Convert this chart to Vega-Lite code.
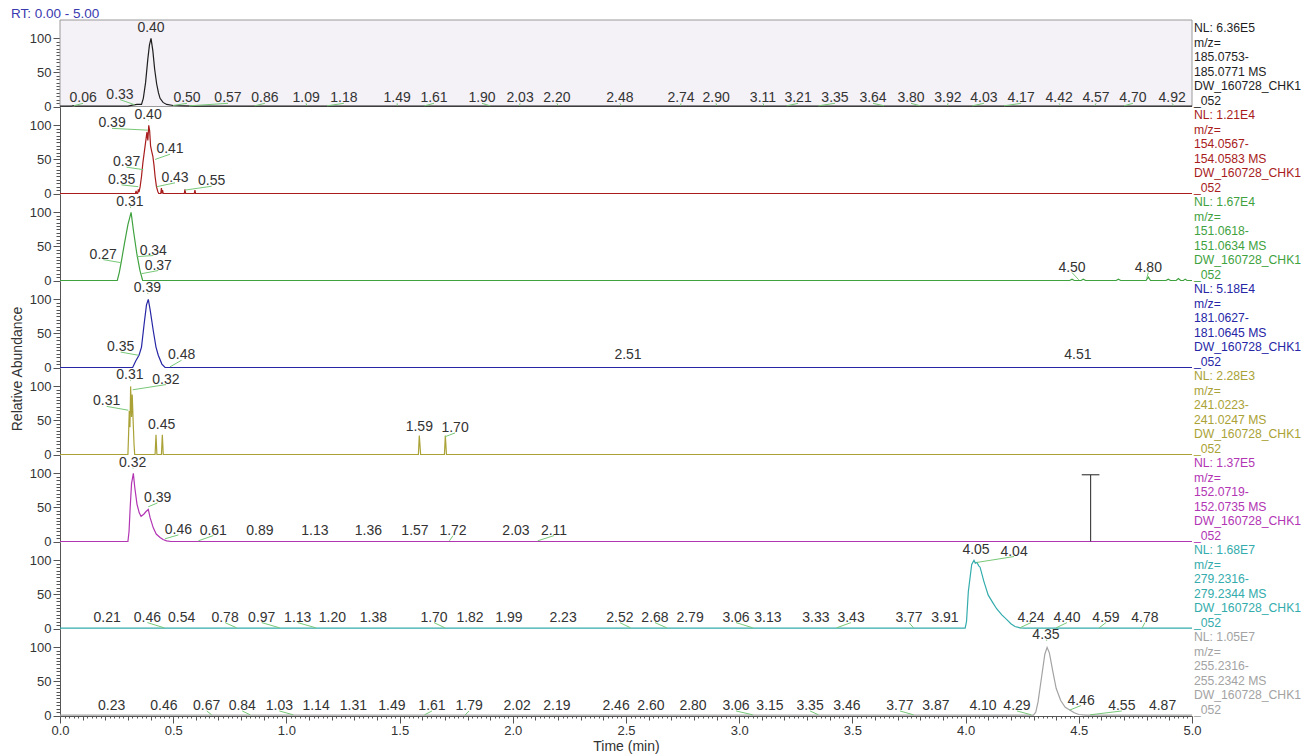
{
"$schema": "https://vega.github.io/schema/vega-lite/v6.json",
"background": "white",
"padding": {"left": 10, "top": 7, "right": 4, "bottom": 2},
"config": {"font": "Liberation Sans", "view": {"stroke": null},
  "axis": {"grid": false, "labelFontSize": 13, "labelColor": "#333", "titleFontSize": 14, "titleFontWeight": "normal", "titleColor": "#333", "domainColor": "#555", "tickColor": "#555"}},
"title": {"text": "RT: 0.00 - 5.00", "anchor": "start", "frame": "bounds", "fontSize": 13.5, "fontWeight": "normal", "color": "#3a3ab0", "offset": -1},
"data": {"values": [
{"k":"t","p":1,"x":0,"y":0.6},{"k":"t","p":1,"x":0.05,"y":0.6},{"k":"t","p":1,"x":0.06,"y":1.2},{"k":"t","p":1,"x":0.07,"y":0.6},{"k":"t","p":1,"x":0.30,"y":0.6},{"k":"t","p":1,"x":0.32,"y":2},{"k":"t","p":1,"x":0.34,"y":3},{"k":"t","p":1,"x":0.36,"y":3},{"k":"t","p":1,"x":0.368,"y":12},{"k":"t","p":1,"x":0.378,"y":35},{"k":"t","p":1,"x":0.388,"y":70},{"k":"t","p":1,"x":0.395,"y":90},{"k":"t","p":1,"x":0.402,"y":100},{"k":"t","p":1,"x":0.41,"y":82},{"k":"t","p":1,"x":0.418,"y":55},{"k":"t","p":1,"x":0.427,"y":33},{"k":"t","p":1,"x":0.435,"y":20},{"k":"t","p":1,"x":0.442,"y":12},{"k":"t","p":1,"x":0.455,"y":6},{"k":"t","p":1,"x":0.471,"y":3},{"k":"t","p":1,"x":0.50,"y":1.5},{"k":"t","p":1,"x":0.55,"y":1},{"k":"t","p":1,"x":0.60,"y":0.6},{"k":"t","p":1,"x":5,"y":0.6},
{"k":"t","p":2,"x":0,"y":0},{"k":"t","p":2,"x":0.333,"y":0},{"k":"t","p":2,"x":0.336,"y":4},{"k":"t","p":2,"x":0.339,"y":0},{"k":"t","p":2,"x":0.343,"y":0},{"k":"t","p":2,"x":0.346,"y":6},{"k":"t","p":2,"x":0.349,"y":2},{"k":"t","p":2,"x":0.354,"y":10},{"k":"t","p":2,"x":0.36,"y":25},{"k":"t","p":2,"x":0.366,"y":45},{"k":"t","p":2,"x":0.372,"y":60},{"k":"t","p":2,"x":0.378,"y":75},{"k":"t","p":2,"x":0.384,"y":90},{"k":"t","p":2,"x":0.388,"y":78},{"k":"t","p":2,"x":0.392,"y":100},{"k":"t","p":2,"x":0.396,"y":92},{"k":"t","p":2,"x":0.40,"y":70},{"k":"t","p":2,"x":0.405,"y":62},{"k":"t","p":2,"x":0.41,"y":55},{"k":"t","p":2,"x":0.415,"y":42},{"k":"t","p":2,"x":0.42,"y":25},{"k":"t","p":2,"x":0.426,"y":10},{"k":"t","p":2,"x":0.432,"y":3},{"k":"t","p":2,"x":0.436,"y":0},{"k":"t","p":2,"x":0.445,"y":0},{"k":"t","p":2,"x":0.448,"y":8},{"k":"t","p":2,"x":0.451,"y":0},{"k":"t","p":2,"x":0.453,"y":5},{"k":"t","p":2,"x":0.456,"y":0},{"k":"t","p":2,"x":0.549,"y":0},{"k":"t","p":2,"x":0.552,"y":6},{"k":"t","p":2,"x":0.555,"y":0},{"k":"t","p":2,"x":0.593,"y":0},{"k":"t","p":2,"x":0.596,"y":5},{"k":"t","p":2,"x":0.599,"y":0},{"k":"t","p":2,"x":5,"y":0},
{"k":"t","p":3,"x":0,"y":0},{"k":"t","p":3,"x":0.253,"y":0},{"k":"t","p":3,"x":0.262,"y":12},{"k":"t","p":3,"x":0.272,"y":30},{"k":"t","p":3,"x":0.285,"y":55},{"k":"t","p":3,"x":0.30,"y":82},{"k":"t","p":3,"x":0.314,"y":100},{"k":"t","p":3,"x":0.325,"y":72},{"k":"t","p":3,"x":0.339,"y":40},{"k":"t","p":3,"x":0.353,"y":15},{"k":"t","p":3,"x":0.365,"y":0},{"k":"t","p":3,"x":4.46,"y":0},{"k":"t","p":3,"x":4.47,"y":2},{"k":"t","p":3,"x":4.48,"y":0},{"k":"t","p":3,"x":4.51,"y":0},{"k":"t","p":3,"x":4.52,"y":2},{"k":"t","p":3,"x":4.53,"y":0},{"k":"t","p":3,"x":4.665,"y":0},{"k":"t","p":3,"x":4.675,"y":2},{"k":"t","p":3,"x":4.685,"y":0},{"k":"t","p":3,"x":4.797,"y":0},{"k":"t","p":3,"x":4.807,"y":5},{"k":"t","p":3,"x":4.817,"y":0},{"k":"t","p":3,"x":4.885,"y":0},{"k":"t","p":3,"x":4.895,"y":2},{"k":"t","p":3,"x":4.905,"y":0},{"k":"t","p":3,"x":4.93,"y":0},{"k":"t","p":3,"x":4.94,"y":3},{"k":"t","p":3,"x":4.95,"y":0},{"k":"t","p":3,"x":4.962,"y":0},{"k":"t","p":3,"x":4.97,"y":2},{"k":"t","p":3,"x":4.978,"y":0},{"k":"t","p":3,"x":5,"y":0},
{"k":"t","p":4,"x":0,"y":0},{"k":"t","p":4,"x":0.321,"y":0},{"k":"t","p":4,"x":0.335,"y":10},{"k":"t","p":4,"x":0.349,"y":18},{"k":"t","p":4,"x":0.36,"y":30},{"k":"t","p":4,"x":0.372,"y":65},{"k":"t","p":4,"x":0.382,"y":92},{"k":"t","p":4,"x":0.39,"y":100},{"k":"t","p":4,"x":0.398,"y":85},{"k":"t","p":4,"x":0.412,"y":54},{"k":"t","p":4,"x":0.424,"y":30},{"k":"t","p":4,"x":0.434,"y":18},{"k":"t","p":4,"x":0.45,"y":5},{"k":"t","p":4,"x":0.464,"y":0},{"k":"t","p":4,"x":5,"y":0},
{"k":"t","p":5,"x":0,"y":0},{"k":"t","p":5,"x":0.300,"y":0},{"k":"t","p":5,"x":0.303,"y":30},{"k":"t","p":5,"x":0.306,"y":64},{"k":"t","p":5,"x":0.309,"y":40},{"k":"t","p":5,"x":0.312,"y":100},{"k":"t","p":5,"x":0.316,"y":55},{"k":"t","p":5,"x":0.319,"y":88},{"k":"t","p":5,"x":0.323,"y":50},{"k":"t","p":5,"x":0.327,"y":15},{"k":"t","p":5,"x":0.33,"y":0},{"k":"t","p":5,"x":0.42,"y":0},{"k":"t","p":5,"x":0.424,"y":29},{"k":"t","p":5,"x":0.428,"y":0},{"k":"t","p":5,"x":0.448,"y":0},{"k":"t","p":5,"x":0.452,"y":29},{"k":"t","p":5,"x":0.456,"y":0},{"k":"t","p":5,"x":1.583,"y":0},{"k":"t","p":5,"x":1.587,"y":28},{"k":"t","p":5,"x":1.593,"y":0},{"k":"t","p":5,"x":1.698,"y":0},{"k":"t","p":5,"x":1.702,"y":28},{"k":"t","p":5,"x":1.707,"y":0},{"k":"t","p":5,"x":5,"y":0},
{"k":"t","p":6,"x":0,"y":0},{"k":"t","p":6,"x":0.30,"y":0},{"k":"t","p":6,"x":0.305,"y":15},{"k":"t","p":6,"x":0.31,"y":50},{"k":"t","p":6,"x":0.316,"y":85},{"k":"t","p":6,"x":0.324,"y":100},{"k":"t","p":6,"x":0.33,"y":80},{"k":"t","p":6,"x":0.34,"y":55},{"k":"t","p":6,"x":0.35,"y":42},{"k":"t","p":6,"x":0.358,"y":37},{"k":"t","p":6,"x":0.37,"y":40},{"k":"t","p":6,"x":0.38,"y":44},{"k":"t","p":6,"x":0.39,"y":47},{"k":"t","p":6,"x":0.398,"y":35},{"k":"t","p":6,"x":0.412,"y":20},{"k":"t","p":6,"x":0.425,"y":11},{"k":"t","p":6,"x":0.442,"y":6},{"k":"t","p":6,"x":0.455,"y":3},{"k":"t","p":6,"x":0.471,"y":1},{"k":"t","p":6,"x":0.49,"y":0},{"k":"t","p":6,"x":5,"y":0},
{"k":"t","p":7,"x":0,"y":0.6},{"k":"t","p":7,"x":3.998,"y":0.6},{"k":"t","p":7,"x":4.004,"y":10},{"k":"t","p":7,"x":4.012,"y":54},{"k":"t","p":7,"x":4.027,"y":94},{"k":"t","p":7,"x":4.037,"y":100},{"k":"t","p":7,"x":4.043,"y":96},{"k":"t","p":7,"x":4.05,"y":97},{"k":"t","p":7,"x":4.058,"y":92},{"k":"t","p":7,"x":4.064,"y":90},{"k":"t","p":7,"x":4.08,"y":70},{"k":"t","p":7,"x":4.1,"y":49},{"k":"t","p":7,"x":4.12,"y":38},{"k":"t","p":7,"x":4.137,"y":29},{"k":"t","p":7,"x":4.16,"y":20},{"k":"t","p":7,"x":4.182,"y":13},{"k":"t","p":7,"x":4.2,"y":7},{"k":"t","p":7,"x":4.218,"y":3},{"k":"t","p":7,"x":4.24,"y":1},{"k":"t","p":7,"x":4.26,"y":0.6},{"k":"t","p":7,"x":5,"y":0.6},
{"k":"t","p":8,"x":0,"y":0.5},{"k":"t","p":8,"x":4.30,"y":0.5},{"k":"t","p":8,"x":4.31,"y":5},{"k":"t","p":8,"x":4.32,"y":20},{"k":"t","p":8,"x":4.335,"y":55},{"k":"t","p":8,"x":4.35,"y":90},{"k":"t","p":8,"x":4.36,"y":100},{"k":"t","p":8,"x":4.37,"y":92},{"k":"t","p":8,"x":4.385,"y":65},{"k":"t","p":8,"x":4.40,"y":40},{"k":"t","p":8,"x":4.42,"y":22},{"k":"t","p":8,"x":4.44,"y":12},{"k":"t","p":8,"x":4.46,"y":8},{"k":"t","p":8,"x":4.48,"y":4},{"k":"t","p":8,"x":4.50,"y":1.5},{"k":"t","p":8,"x":4.53,"y":0.5},{"k":"t","p":8,"x":5,"y":0.5},

{"k":"l","p":1,"x":0.102,"y":12,"txt":"0.06","px":0.06,"py":1},
{"k":"l","p":1,"x":0.265,"y":17.5,"txt":"0.33","px":0.33,"py":2.5},
{"k":"l","p":1,"x":0.402,"y":115,"txt":"0.40","px":0.402,"py":107.5},
{"k":"l","p":1,"x":0.561,"y":12,"txt":"0.50","px":0.50,"py":1.5},
{"k":"l","p":1,"x":0.742,"y":12,"txt":"0.57","px":0.57,"py":1},
{"k":"l","p":1,"x":0.905,"y":12,"txt":"0.86","px":0.86,"py":1},
{"k":"l","p":1,"x":1.087,"y":12,"txt":"1.09","px":1.09,"py":1},
{"k":"l","p":1,"x":1.254,"y":12,"txt":"1.18","px":1.18,"py":1},
{"k":"l","p":1,"x":1.489,"y":12,"txt":"1.49","px":1.49,"py":1},
{"k":"l","p":1,"x":1.652,"y":12,"txt":"1.61","px":1.61,"py":1},
{"k":"l","p":1,"x":1.864,"y":12,"txt":"1.90","px":1.90,"py":1},
{"k":"l","p":1,"x":2.032,"y":12,"txt":"2.03","px":2.03,"py":1},
{"k":"l","p":1,"x":2.195,"y":12,"txt":"2.20","px":2.20,"py":1},
{"k":"l","p":1,"x":2.473,"y":12,"txt":"2.48","px":2.48,"py":1},
{"k":"l","p":1,"x":2.743,"y":12,"txt":"2.74","px":2.74,"py":1},
{"k":"l","p":1,"x":2.898,"y":12,"txt":"2.90","px":2.90,"py":1},
{"k":"l","p":1,"x":3.105,"y":12,"txt":"3.11","px":3.11,"py":1},
{"k":"l","p":1,"x":3.260,"y":12,"txt":"3.21","px":3.21,"py":1},
{"k":"l","p":1,"x":3.423,"y":12,"txt":"3.35","px":3.35,"py":1},
{"k":"l","p":1,"x":3.591,"y":12,"txt":"3.64","px":3.64,"py":1},
{"k":"l","p":1,"x":3.759,"y":12,"txt":"3.80","px":3.80,"py":1},
{"k":"l","p":1,"x":3.922,"y":12,"txt":"3.92","px":3.92,"py":1},
{"k":"l","p":1,"x":4.081,"y":12,"txt":"4.03","px":4.03,"py":1},
{"k":"l","p":1,"x":4.245,"y":12,"txt":"4.17","px":4.17,"py":1},
{"k":"l","p":1,"x":4.413,"y":12,"txt":"4.42","px":4.42,"py":1},
{"k":"l","p":1,"x":4.576,"y":12,"txt":"4.57","px":4.57,"py":1},
{"k":"l","p":1,"x":4.739,"y":12,"txt":"4.70","px":4.70,"py":1},
{"k":"l","p":1,"x":4.912,"y":12,"txt":"4.92","px":4.92,"py":1},
{"k":"l","p":2,"x":0.230,"y":103,"txt":"0.39","px":0.388,"py":93},
{"k":"l","p":2,"x":0.389,"y":115,"txt":"0.40","px":0.392,"py":107.5},
{"k":"l","p":2,"x":0.486,"y":65,"txt":"0.41","px":0.42,"py":50},
{"k":"l","p":2,"x":0.294,"y":46,"txt":"0.37","px":0.368,"py":35},
{"k":"l","p":2,"x":0.272,"y":20,"txt":"0.35","px":0.346,"py":10},
{"k":"l","p":2,"x":0.508,"y":23,"txt":"0.43","px":0.427,"py":10},
{"k":"l","p":2,"x":0.670,"y":18,"txt":"0.55","px":0.552,"py":5},
{"k":"l","p":3,"x":0.309,"y":115,"txt":"0.31","px":0.314,"py":107.5},
{"k":"l","p":3,"x":0.191,"y":38,"txt":"0.27","px":0.272,"py":26},
{"k":"l","p":3,"x":0.412,"y":44,"txt":"0.34","px":0.339,"py":35},
{"k":"l","p":3,"x":0.434,"y":22,"txt":"0.37","px":0.36,"py":10},
{"k":"l","p":3,"x":4.47,"y":19,"txt":"4.50","px":4.50,"py":1},
{"k":"l","p":3,"x":4.807,"y":19,"txt":"4.80","px":4.80,"py":3},
{"k":"l","p":4,"x":0.386,"y":116,"txt":"0.39","px":0.39,"py":108.5},
{"k":"l","p":4,"x":0.268,"y":30,"txt":"0.35","px":0.346,"py":18},
{"k":"l","p":4,"x":0.537,"y":18,"txt":"0.48","px":0.486,"py":1},
{"k":"l","p":4,"x":2.509,"y":18,"txt":"2.51","px":2.509,"py":10.5},
{"k":"l","p":4,"x":4.496,"y":18,"txt":"4.51","px":4.496,"py":10.5},
{"k":"l","p":5,"x":0.309,"y":116,"txt":"0.31","px":0.312,"py":108.5},
{"k":"l","p":5,"x":0.468,"y":110,"txt":"0.32","px":0.321,"py":95},
{"k":"l","p":5,"x":0.206,"y":78,"txt":"0.31","px":0.302,"py":65},
{"k":"l","p":5,"x":0.449,"y":44,"txt":"0.45","px":0.449,"py":36.5},
{"k":"l","p":5,"x":1.587,"y":41,"txt":"1.59","px":1.587,"py":33.5},
{"k":"l","p":5,"x":1.745,"y":39,"txt":"1.70","px":1.70,"py":26},
{"k":"l","p":6,"x":0.321,"y":115,"txt":"0.32","px":0.324,"py":107.5},
{"k":"l","p":6,"x":0.431,"y":64,"txt":"0.39","px":0.39,"py":51},
{"k":"l","p":6,"x":0.523,"y":17,"txt":"0.46","px":0.464,"py":4},
{"k":"l","p":6,"x":0.677,"y":16,"txt":"0.61","px":0.611,"py":1},
{"k":"l","p":6,"x":0.883,"y":16,"txt":"0.89","px":0.883,"py":8.5},
{"k":"l","p":6,"x":1.126,"y":16,"txt":"1.13","px":1.126,"py":8.5},
{"k":"l","p":6,"x":1.362,"y":16,"txt":"1.36","px":1.362,"py":8.5},
{"k":"l","p":6,"x":1.568,"y":16,"txt":"1.57","px":1.568,"py":8.5},
{"k":"l","p":6,"x":1.736,"y":16,"txt":"1.72","px":1.72,"py":1},
{"k":"l","p":6,"x":2.014,"y":16,"txt":"2.03","px":2.014,"py":8.5},
{"k":"l","p":6,"x":2.182,"y":16,"txt":"2.11","px":2.11,"py":1},
{"k":"l","p":7,"x":0.208,"y":16,"txt":"0.21","px":0.208,"py":8.5},
{"k":"l","p":7,"x":0.386,"y":16,"txt":"0.46","px":0.46,"py":1},
{"k":"l","p":7,"x":0.537,"y":16,"txt":"0.54","px":0.537,"py":8.5},
{"k":"l","p":7,"x":0.729,"y":16,"txt":"0.78","px":0.78,"py":1},
{"k":"l","p":7,"x":0.891,"y":16,"txt":"0.97","px":0.97,"py":1},
{"k":"l","p":7,"x":1.05,"y":16,"txt":"1.13","px":1.13,"py":1},
{"k":"l","p":7,"x":1.203,"y":16,"txt":"1.20","px":1.203,"py":8.5},
{"k":"l","p":7,"x":1.384,"y":16,"txt":"1.38","px":1.384,"py":8.5},
{"k":"l","p":7,"x":1.652,"y":16,"txt":"1.70","px":1.70,"py":1},
{"k":"l","p":7,"x":1.811,"y":16,"txt":"1.82","px":1.811,"py":8.5},
{"k":"l","p":7,"x":1.983,"y":16,"txt":"1.99","px":1.983,"py":8.5},
{"k":"l","p":7,"x":2.222,"y":16,"txt":"2.23","px":2.222,"py":8.5},
{"k":"l","p":7,"x":2.473,"y":16,"txt":"2.52","px":2.52,"py":1},
{"k":"l","p":7,"x":2.628,"y":16,"txt":"2.68","px":2.68,"py":1},
{"k":"l","p":7,"x":2.783,"y":16,"txt":"2.79","px":2.783,"py":8.5},
{"k":"l","p":7,"x":2.986,"y":16,"txt":"3.06","px":3.06,"py":1},
{"k":"l","p":7,"x":3.127,"y":16,"txt":"3.13","px":3.127,"py":8.5},
{"k":"l","p":7,"x":3.339,"y":16,"txt":"3.33","px":3.339,"py":8.5},
{"k":"l","p":7,"x":3.494,"y":16,"txt":"3.43","px":3.43,"py":1},
{"k":"l","p":7,"x":3.75,"y":16,"txt":"3.77","px":3.77,"py":1},
{"k":"l","p":7,"x":3.909,"y":16,"txt":"3.91","px":3.909,"py":8.5},
{"k":"l","p":7,"x":4.046,"y":115,"txt":"4.05","px":4.046,"py":107.5},
{"k":"l","p":7,"x":4.214,"y":113,"txt":"4.04","px":4.05,"py":97},
{"k":"l","p":7,"x":4.289,"y":16,"txt":"4.24","px":4.24,"py":1},
{"k":"l","p":7,"x":4.448,"y":16,"txt":"4.40","px":4.40,"py":1},
{"k":"l","p":7,"x":4.62,"y":16,"txt":"4.59","px":4.59,"py":1},
{"k":"l","p":7,"x":4.792,"y":16,"txt":"4.78","px":4.78,"py":1},
{"k":"l","p":8,"x":0.228,"y":14,"txt":"0.23","px":0.228,"py":6.5},
{"k":"l","p":8,"x":0.459,"y":14,"txt":"0.46","px":0.459,"py":6.5},
{"k":"l","p":8,"x":0.648,"y":14,"txt":"0.67","px":0.67,"py":1},
{"k":"l","p":8,"x":0.805,"y":14,"txt":"0.84","px":0.84,"py":1},
{"k":"l","p":8,"x":0.969,"y":14,"txt":"1.03","px":1.03,"py":1},
{"k":"l","p":8,"x":1.131,"y":14,"txt":"1.14","px":1.131,"py":6.5},
{"k":"l","p":8,"x":1.296,"y":14,"txt":"1.31","px":1.296,"py":6.5},
{"k":"l","p":8,"x":1.466,"y":14,"txt":"1.49","px":1.466,"py":6.5},
{"k":"l","p":8,"x":1.643,"y":14,"txt":"1.61","px":1.61,"py":1},
{"k":"l","p":8,"x":1.807,"y":14,"txt":"1.79","px":1.79,"py":1},
{"k":"l","p":8,"x":2.019,"y":14,"txt":"2.02","px":2.019,"py":6.5},
{"k":"l","p":8,"x":2.195,"y":14,"txt":"2.19","px":2.195,"py":6.5},
{"k":"l","p":8,"x":2.456,"y":14,"txt":"2.46","px":2.456,"py":6.5},
{"k":"l","p":8,"x":2.61,"y":14,"txt":"2.60","px":2.61,"py":6.5},
{"k":"l","p":8,"x":2.796,"y":14,"txt":"2.80","px":2.796,"py":6.5},
{"k":"l","p":8,"x":2.986,"y":14,"txt":"3.06","px":3.06,"py":1},
{"k":"l","p":8,"x":3.136,"y":14,"txt":"3.15","px":3.136,"py":6.5},
{"k":"l","p":8,"x":3.313,"y":14,"txt":"3.35","px":3.35,"py":1},
{"k":"l","p":8,"x":3.476,"y":14,"txt":"3.46","px":3.476,"py":6.5},
{"k":"l","p":8,"x":3.71,"y":14,"txt":"3.77","px":3.77,"py":1},
{"k":"l","p":8,"x":3.869,"y":14,"txt":"3.87","px":3.869,"py":6.5},
{"k":"l","p":8,"x":4.077,"y":14,"txt":"4.10","px":4.077,"py":6.5},
{"k":"l","p":8,"x":4.227,"y":14,"txt":"4.29","px":4.29,"py":1},
{"k":"l","p":8,"x":4.355,"y":118,"txt":"4.35","px":4.36,"py":110.5},
{"k":"l","p":8,"x":4.51,"y":22,"txt":"4.46","px":4.46,"py":8},
{"k":"l","p":8,"x":4.69,"y":14,"txt":"4.55","px":4.55,"py":1},
{"k":"l","p":8,"x":4.87,"y":14,"txt":"4.87","px":4.87,"py":6.5},

{"k":"i","p":1,"txt":"NL: 6.36E5\nm/z=\n185.0753-\n185.0771  MS\nDW_160728_CHK1\n_052"},
{"k":"i","p":2,"txt":"NL: 1.21E4\nm/z=\n154.0567-\n154.0583  MS\nDW_160728_CHK1\n_052"},
{"k":"i","p":3,"txt":"NL: 1.67E4\nm/z=\n151.0618-\n151.0634  MS\nDW_160728_CHK1\n_052"},
{"k":"i","p":4,"txt":"NL: 5.18E4\nm/z=\n181.0627-\n181.0645  MS\nDW_160728_CHK1\n_052"},
{"k":"i","p":5,"txt":"NL: 2.28E3\nm/z=\n241.0223-\n241.0247  MS\nDW_160728_CHK1\n_052"},
{"k":"i","p":6,"txt":"NL: 1.37E5\nm/z=\n152.0719-\n152.0735  MS\nDW_160728_CHK1\n_052"},
{"k":"i","p":7,"txt":"NL: 1.68E7\nm/z=\n279.2316-\n279.2344  MS\nDW_160728_CHK1\n_052"},
{"k":"i","p":8,"txt":"NL: 1.05E7\nm/z=\n255.2316-\n255.2342  MS\nDW_160728_CHK1\n_052"},

{"k":"c","p":6,"x":4.552,"y":0,"x2":4.552,"y2":98},
{"k":"c","p":6,"x":4.513,"y":98,"x2":4.591,"y2":98}
]},
"facet": {"row": {"field": "p", "type": "ordinal",
  "header": {"title": "Relative Abundance", "labels": false, "titleFontSize": 14, "titleFontWeight": "normal", "titleColor": "#333", "titlePadding": -6, "titleFont": "Liberation Sans"}}},
"spacing": {"row": 0},
"bounds": "flush",
"spec": {
  "width": 1132,
  "height": 86.5,
  "layer": [
    {"transform": [{"filter": "datum.k === 'i' && datum.p === 1"}],
     "mark": {"type": "rect", "fill": "#f4f1f7", "stroke": "#9a9a9a", "strokeWidth": 1},
     "encoding": {
       "x": {"datum": 0, "type": "quantitative", "scale": {"domain": [0, 5], "nice": false}, "title": "Time (min)",
             "axis": {"tickCount": 250, "labelOverlap": false, "labelFlush": false, "labelPadding": 1, "titlePadding": 2,
                      "labelExpr": "abs(datum.value*2 - round(datum.value*2)) < 0.001 ? format(datum.value, '.1f') : ''",
                      "tickSize": {"condition": [{"test": "abs(datum.value*2 - round(datum.value*2)) < 0.001", "value": 7}, {"test": "abs(datum.value*10 - round(datum.value*10)) < 0.001", "value": 4}], "value": 2}}},
       "x2": {"datum": 5},
       "y": {"datum": 0, "type": "quantitative", "scale": {"domain": [0, 127], "nice": false}, "title": null,
             "axis": {"title": null, "values": [0,5,10,15,20,25,30,35,40,45,50,55,60,65,70,75,80,85,90,95,100], "labelOverlap": false, "labelPadding": 2,
                      "labelExpr": "datum.value % 50 === 0 ? datum.label : ''",
                      "tickSize": {"condition": {"test": "datum.value % 50 === 0", "value": 7}, "value": 4}}},
       "y2": {"datum": 127}}},
    {"transform": [{"filter": "datum.k === 't'"}],
     "mark": {"type": "line", "strokeWidth": 1.2, "interpolate": "linear"},
     "encoding": {
       "x": {"field": "x", "type": "quantitative", "scale": {"domain": [0, 5], "nice": false}, "title": "Time (min)",
             "axis": {"tickCount": 250, "labelOverlap": false, "labelFlush": false, "labelPadding": 1, "titlePadding": 2,
                      "labelExpr": "abs(datum.value*2 - round(datum.value*2)) < 0.001 ? format(datum.value, '.1f') : ''",
                      "tickSize": {"condition": [{"test": "abs(datum.value*2 - round(datum.value*2)) < 0.001", "value": 7}, {"test": "abs(datum.value*10 - round(datum.value*10)) < 0.001", "value": 4}], "value": 2}}},
       "y": {"field": "y", "type": "quantitative", "scale": {"domain": [0, 127], "nice": false}, "title": null,
             "axis": {"title": null, "values": [0,5,10,15,20,25,30,35,40,45,50,55,60,65,70,75,80,85,90,95,100], "labelOverlap": false, "labelPadding": 2,
                      "labelExpr": "datum.value % 50 === 0 ? datum.label : ''",
                      "tickSize": {"condition": {"test": "datum.value % 50 === 0", "value": 7}, "value": 4}}},
       "color": {"field": "p", "type": "nominal", "legend": null,
                 "scale": {"domain": [1,2,3,4,5,6,7,8], "range": ["#1e1e1e", "#a81c1c", "#3fa23f", "#2626a6", "#aaa236", "#b235b4", "#34acac", "#a3a3a3"]}}}},
    {"transform": [{"filter": "datum.k === 'l'"}],
     "mark": {"type": "rule", "color": "#78c878", "strokeWidth": 1, "y2Offset": 5},
     "encoding": {
       "x": {"field": "px", "type": "quantitative", "scale": {"domain": [0, 5], "nice": false}, "title": "Time (min)",
             "axis": {"tickCount": 250, "labelOverlap": false, "labelFlush": false, "labelPadding": 1, "titlePadding": 2,
                      "labelExpr": "abs(datum.value*2 - round(datum.value*2)) < 0.001 ? format(datum.value, '.1f') : ''",
                      "tickSize": {"condition": [{"test": "abs(datum.value*2 - round(datum.value*2)) < 0.001", "value": 7}, {"test": "abs(datum.value*10 - round(datum.value*10)) < 0.001", "value": 4}], "value": 2}}},
       "y": {"field": "py", "type": "quantitative", "scale": {"domain": [0, 127], "nice": false}, "title": null,
             "axis": {"title": null, "values": [0,5,10,15,20,25,30,35,40,45,50,55,60,65,70,75,80,85,90,95,100], "labelOverlap": false, "labelPadding": 2,
                      "labelExpr": "datum.value % 50 === 0 ? datum.label : ''",
                      "tickSize": {"condition": {"test": "datum.value % 50 === 0", "value": 7}, "value": 4}}},
       "x2": {"field": "x"}, "y2": {"field": "y"}}},
    {"transform": [{"filter": "datum.k === 'c'"}],
     "mark": {"type": "rule", "color": "#444", "strokeWidth": 1.2},
     "encoding": {
       "x": {"field": "x", "type": "quantitative", "scale": {"domain": [0, 5], "nice": false}, "title": "Time (min)",
             "axis": {"tickCount": 250, "labelOverlap": false, "labelFlush": false, "labelPadding": 1, "titlePadding": 2,
                      "labelExpr": "abs(datum.value*2 - round(datum.value*2)) < 0.001 ? format(datum.value, '.1f') : ''",
                      "tickSize": {"condition": [{"test": "abs(datum.value*2 - round(datum.value*2)) < 0.001", "value": 7}, {"test": "abs(datum.value*10 - round(datum.value*10)) < 0.001", "value": 4}], "value": 2}}},
       "y": {"field": "y", "type": "quantitative", "scale": {"domain": [0, 127], "nice": false}, "title": null,
             "axis": {"title": null, "values": [0,5,10,15,20,25,30,35,40,45,50,55,60,65,70,75,80,85,90,95,100], "labelOverlap": false, "labelPadding": 2,
                      "labelExpr": "datum.value % 50 === 0 ? datum.label : ''",
                      "tickSize": {"condition": {"test": "datum.value % 50 === 0", "value": 7}, "value": 4}}},
       "x2": {"field": "x2"}, "y2": {"field": "y2"}}},
    {"transform": [{"filter": "datum.k === 'l'"}],
     "mark": {"type": "text", "fontSize": 14, "color": "#333", "align": "center", "baseline": "middle"},
     "encoding": {
       "x": {"field": "x", "type": "quantitative", "scale": {"domain": [0, 5], "nice": false}, "title": "Time (min)",
             "axis": {"tickCount": 250, "labelOverlap": false, "labelFlush": false, "labelPadding": 1, "titlePadding": 2,
                      "labelExpr": "abs(datum.value*2 - round(datum.value*2)) < 0.001 ? format(datum.value, '.1f') : ''",
                      "tickSize": {"condition": [{"test": "abs(datum.value*2 - round(datum.value*2)) < 0.001", "value": 7}, {"test": "abs(datum.value*10 - round(datum.value*10)) < 0.001", "value": 4}], "value": 2}}},
       "y": {"field": "y", "type": "quantitative", "scale": {"domain": [0, 127], "nice": false}, "title": null,
             "axis": {"title": null, "values": [0,5,10,15,20,25,30,35,40,45,50,55,60,65,70,75,80,85,90,95,100], "labelOverlap": false, "labelPadding": 2,
                      "labelExpr": "datum.value % 50 === 0 ? datum.label : ''",
                      "tickSize": {"condition": {"test": "datum.value % 50 === 0", "value": 7}, "value": 4}}},
       "text": {"field": "txt"}}},
    {"transform": [{"filter": "datum.k === 'i'"}],
     "mark": {"type": "text", "fontSize": 12.2, "align": "left", "baseline": "top", "dx": 2, "dy": 2, "lineHeight": 14.5, "lineBreak": "\n"},
     "encoding": {
       "x": {"datum": 5, "type": "quantitative", "scale": {"domain": [0, 5], "nice": false}, "title": "Time (min)",
             "axis": {"tickCount": 250, "labelOverlap": false, "labelFlush": false, "labelPadding": 1, "titlePadding": 2,
                      "labelExpr": "abs(datum.value*2 - round(datum.value*2)) < 0.001 ? format(datum.value, '.1f') : ''",
                      "tickSize": {"condition": [{"test": "abs(datum.value*2 - round(datum.value*2)) < 0.001", "value": 7}, {"test": "abs(datum.value*10 - round(datum.value*10)) < 0.001", "value": 4}], "value": 2}}},
       "y": {"datum": 127, "type": "quantitative", "scale": {"domain": [0, 127], "nice": false}, "title": null,
             "axis": {"title": null, "values": [0,5,10,15,20,25,30,35,40,45,50,55,60,65,70,75,80,85,90,95,100], "labelOverlap": false, "labelPadding": 2,
                      "labelExpr": "datum.value % 50 === 0 ? datum.label : ''",
                      "tickSize": {"condition": {"test": "datum.value % 50 === 0", "value": 7}, "value": 4}}},
       "text": {"field": "txt"},
       "color": {"field": "p", "type": "nominal", "legend": null,
                 "scale": {"domain": [1,2,3,4,5,6,7,8], "range": ["#1e1e1e", "#a81c1c", "#3fa23f", "#2626a6", "#aaa236", "#b235b4", "#34acac", "#a3a3a3"]}}}}
  ]
}
}
